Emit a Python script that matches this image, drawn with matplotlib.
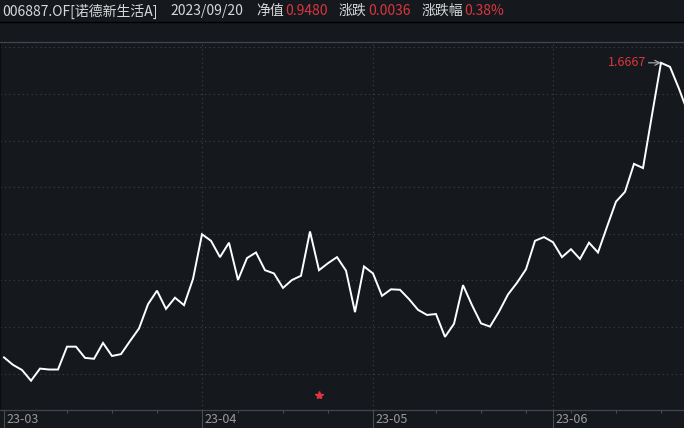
import matplotlib.pyplot as plt
from matplotlib.lines import Line2D
from matplotlib.transforms import blended_transform_factory

plt.rcParams['font.family'] = ['Noto Sans CJK SC', 'DejaVu Sans']

# NAV per trading day, 2023-03-02 onwards
nav = [1.035, 1.019, 1.008, 0.985, 1.011, 1.009, 1.009, 1.058, 1.058, 1.034,
       1.032, 1.066, 1.038, 1.042, 1.070, 1.097, 1.149, 1.178, 1.139, 1.163,
       1.147, 1.203, 1.299, 1.285, 1.250, 1.281, 1.201, 1.248, 1.260, 1.222,
       1.215, 1.184, 1.201, 1.210, 1.305, 1.222, 1.237, 1.250, 1.221, 1.132,
       1.230, 1.215, 1.167, 1.181, 1.180, 1.160, 1.137, 1.126, 1.128, 1.079,
       1.107, 1.190, 1.147, 1.108, 1.101, 1.133, 1.170, 1.195, 1.224, 1.285,
       1.293, 1.282, 1.250, 1.267, 1.246, 1.281, 1.260, 1.315, 1.369, 1.390,
       1.450, 1.441, 1.555, 1.6667, 1.658, 1.611, 1.559]
month_labels = ['23-03', '23-04', '23-05', '23-06']
month_idx = [0, 22, 41, 61]
week_idx = [7, 12, 17, 26, 31, 36, 48, 53, 58, 63, 68, 73]
star_idx = 35
star_val = 0.955
grid_vals = [1.0, 1.1, 1.2, 1.3, 1.4, 1.5, 1.6, 1.7]

bg = '#15181d'
red = '#d9363e'
W, H = 684, 428

fig = plt.figure(figsize=(6.84, 4.28), dpi=100, facecolor=bg)
ax = fig.add_axes([0, 18 / H, 1, 368 / H])
ax.set_facecolor(bg)

x = list(range(len(nav)))
ax.plot(x, nav, color='white', lw=1.4, solid_joinstyle='miter')
ax.plot(star_idx, star_val, marker='*', color=red, markersize=6, ls='none')

ax.set_xlim(-4 / 9, 680 / 9)
ax.set_ylim(0.9222, 1.7113)

for v in grid_vals:
    ax.axhline(v, color='#3e4248', lw=0.8, ls=(0, (1, 3)), zorder=0)
for m in month_idx[1:]:
    ax.axvline(m, color='#3e4248', lw=0.8, ls=(0, (1, 3)), zorder=0)

# peak label
imax = nav.index(max(nav))
ax.annotate('%.4f' % nav[imax], xy=(imax, nav[imax]), xytext=(-11, 0),
            textcoords='offset points', ha='right', va='center',
            color=red, fontsize=9,
            arrowprops=dict(arrowstyle='->', color='#b0b0b0', lw=0.8,
                            shrinkA=0, shrinkB=0))

ax.set_yticks([])
ax.set_xticks(month_idx)
ax.set_xticklabels([])
ax.set_xticks(week_idx, minor=True)
ax.tick_params(axis='x', which='major', length=13, width=0.8, color='#4a4d52')
ax.tick_params(axis='x', which='minor', length=2.2, width=0.8, color='#4a4d52')
trans = blended_transform_factory(ax.transData, ax.transAxes)
for m, lab in zip(month_idx, month_labels):
    ax.text(m + 0.25, -0.026, lab, transform=trans, ha='left', va='center',
            color='#9a9a9a', fontsize=9)

for s in ['top', 'bottom']:
    ax.spines[s].set_color('#43464c')
    ax.spines[s].set_linewidth(0.9)
ax.spines['left'].set_color('#0b0c0f')
ax.spines['right'].set_visible(False)

# header
fig.add_artist(Line2D([0, 1], [1 - 21.5 / H] * 2, color='black', lw=1))
hy = 1 - 11 / H
header = [(2, '006887.OF[诺德新生活A]', '#d8d8d8'),
          (170, '2023/09/20', '#d8d8d8'),
          (256, '净值', '#d8d8d8'),
          (285, '0.9480', red),
          (339, '涨跌', '#d8d8d8'),
          (368, '0.0036', red),
          (422, '涨跌幅', '#d8d8d8'),
          (464, '0.38%', red)]
for px, t, c in header:
    fig.text(px / W, hy, t, color=c, fontsize=10, ha='left', va='center')

fig.savefig('out.png', dpi=100, facecolor=bg)
